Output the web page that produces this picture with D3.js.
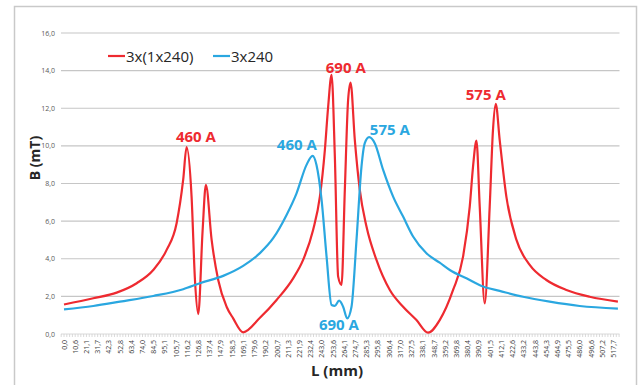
<!DOCTYPE html>
<html>
<head>
<meta charset="utf-8">
<script src="https://cdn.jsdelivr.net/npm/d3@7"></script>
<style>
  body { margin: 0; background: #fff; }
  svg { display: block; font-family: "Open Sans", sans-serif; }
</style>
</head>
<body>
<div id="chart"></div>
<script>
////////////////////////////  Data  ////////////////////////////
const xLabels = [
  "0,0", "10,6", "21,1", "31,7", "42,3", "52,8", "63,4", "74,0", "84,5", "95,1",
  "105,7", "116,2", "126,8", "137,4", "147,9", "158,5", "169,1", "179,6", "190,2", "200,7",
  "211,3", "221,9", "232,4", "243,0", "253,6", "264,1", "274,7", "285,3", "295,8", "306,4",
  "317,0", "327,5", "338,1", "348,7", "359,2", "369,8", "380,4", "390,9", "401,5", "412,1",
  "422,6", "433,2", "443,8", "454,3", "464,9", "475,5", "486,0", "496,6", "507,2", "517,7"
];
const yTicks = [0, 2, 4, 6, 8, 10, 12, 14, 16];

// 3x(1x240)
const redL = [
  0, 27.6, 49.6, 68.5, 84.1, 96.7, 106.1, 112.3, 115.5, 120.2, 123.4, 126.5, 130.6, 133.7,
  139.1, 145.3, 153.2, 159.4, 168.8, 184.6, 200.3, 215.9, 225.3, 234.7, 241.1, 245.8, 248.9,
  252.1, 255.2, 258.3, 261.5, 264.6, 267.7, 270.0, 274.0, 278.7, 285.0, 294.4, 307.0, 319.5,
  332.1, 343.0, 354.0, 366.6, 376.0, 382.3, 385.4, 388.6, 391.7, 396.4, 401.1, 404.2, 406.8,
  410.5, 416.8, 426.3, 438.8, 454.5, 473.4, 495.3, 521.9
];
const redB = [
  1.57, 1.9, 2.2, 2.7, 3.4, 4.47, 5.89, 8.2, 9.93, 7.3, 2.87, 1.06, 5.5, 7.93,
  5.0, 2.87, 1.45, 0.83, 0.09, 0.86, 1.81, 2.96, 3.94, 5.53, 7.3, 9.79, 12.09,
  13.78, 9.43, 3.05, 2.61, 7.66, 12.45, 13.37, 10.32, 7.66, 5.71, 3.94, 2.34, 1.45,
  0.74, 0.07, 0.74, 2.34, 4.11, 6.77, 8.9, 10.28, 6.77, 1.63, 6.77, 10.85, 12.23,
  10.32, 7.3, 5.0, 3.67, 2.87, 2.34, 1.98, 1.72
];

// 3x240
const blueL = [
  0, 27.6, 52.7, 84.1, 112.3, 128.1, 150.0, 168.8, 184.6, 197.1, 209.7, 219.1, 228.5, 234.2,
  237.9, 242.7, 247.4, 252.1, 255.2, 259.2, 263.0, 266.8, 270.9, 275.6, 280.3, 283.4, 287.5,
  292.8, 300.7, 310.1, 319.5, 328.9, 341.5, 354.0, 363.5, 379.2, 394.8, 410.5, 432.5, 457.6,
  485.9, 521.9
];
const blueB = [
  1.31, 1.49, 1.72, 2.02, 2.38, 2.7, 3.09, 3.62, 4.3, 5.09, 6.33, 7.48, 8.99, 9.47,
  8.99, 7.13, 4.11, 1.54, 1.49, 1.77, 1.45, 0.83, 1.45, 5.0, 8.9, 10.14, 10.46,
  10.14, 8.72, 7.3, 6.24, 5.18, 4.29, 3.79, 3.4, 2.96, 2.52, 2.29, 1.98, 1.72,
  1.49, 1.35
];

// peak annotations (text, series, L, B of the text baseline centre)
const noteText = ["460 A", "690 A", "575 A", "460 A", "575 A", "690 A"];
const noteSeries = [0, 0, 0, 1, 1, 1];
const noteL = [124.3, 265.5, 397.4, 219.4, 307.0, 259.0];
const noteB = [10.2, 13.9, 12.45, 9.8, 10.6, 0.2];

const series = [
  { name: "3x(1x240)", color: "#ee2a30", L: redL, B: redB },
  { name: "3x240", color: "#2aa7e0", L: blueL, B: blueB },
];

////////////////////////////  Init  ////////////////////////////
const width = 643;
const height = 385;
const plot = { left: 61, right: 619.5, top: 33, bottom: 334 };

const svg = d3
  .select("#chart")
  .append("svg")
  .attr("width", width)
  .attr("height", height);

// outer frame
svg
  .append("rect")
  .attr("x", 14.5)
  .attr("y", 6.5)
  .attr("width", 622)
  .attr("height", 400)
  .attr("fill", "none")
  .attr("stroke", "#c9c9c9")
  .attr("stroke-width", 1.5);

// scales
const x = d3.scaleLinear().domain([-2.83, 523.4]).range([plot.left, plot.right]);
const y = d3.scaleLinear().domain([0, 16]).range([plot.bottom, plot.top]);

const parseLabel = (s) => +s.replace(",", ".");

// grid
svg
  .append("g")
  .selectAll("line")
  .data(yTicks)
  .join("line")
  .attr("x1", plot.left)
  .attr("x2", plot.right)
  .attr("y1", (d) => y(d))
  .attr("y2", (d) => y(d))
  .attr("stroke", (d) => (d === 0 ? "#d9d9d9" : "#c6c6c6"))
  .attr("stroke-width", 1.2);

// y labels
svg
  .append("g")
  .selectAll("text")
  .data(yTicks)
  .join("text")
  .attr("x", 55)
  .attr("y", (d) => y(d) + 2.5)
  .attr("text-anchor", "end")
  .attr("font-size", 7)
  .attr("fill", "#595959")
  .text((d) => d3.format(".1f")(d).replace(".", ","));

// x minor ticks (category boundaries)
const tickStep = 5.283 / 2;
svg
  .append("g")
  .selectAll("line")
  .data(d3.range(0, 200))
  .join("line")
  .attr("x1", (d) => x(d * tickStep - tickStep))
  .attr("x2", (d) => x(d * tickStep - tickStep))
  .attr("y1", plot.bottom)
  .attr("y2", plot.bottom + 3)
  .attr("stroke", "#d0d0d0")
  .attr("stroke-width", 0.8);

// x labels
svg
  .append("g")
  .selectAll("text")
  .data(xLabels)
  .join("text")
  .attr("transform", (d) => `translate(${x(parseLabel(d)) + 2.5}, 340) rotate(-90)`)
  .attr("text-anchor", "end")
  .attr("font-size", 7)
  .attr("fill", "#404040")
  .text((d) => d);

// axis titles
svg
  .append("text")
  .attr("transform", "translate(40, 158) rotate(-90)")
  .attr("text-anchor", "middle")
  .attr("font-size", 14)
  .attr("font-weight", "bold")
  .attr("fill", "#262626")
  .text("B (mT)");

svg
  .append("text")
  .attr("x", 337)
  .attr("y", 376)
  .attr("text-anchor", "middle")
  .attr("font-size", 15)
  .attr("font-weight", "bold")
  .attr("fill", "#262626")
  .text("L (mm)");

// lines
const line = d3
  .line()
  .curve(d3.curveMonotoneX)
  .x((d) => x(d[0]))
  .y((d) => y(d[1]));

svg
  .append("g")
  .selectAll("path")
  .data(series)
  .join("path")
  .attr("d", (s) => line(d3.zip(s.L, s.B)))
  .attr("fill", "none")
  .attr("stroke", (s) => s.color)
  .attr("stroke-width", 2.2)
  .attr("stroke-linejoin", "round");

// peak notes
svg
  .append("g")
  .selectAll("text")
  .data(noteText)
  .join("text")
  .attr("x", (d, i) => x(noteL[i]))
  .attr("y", (d, i) => y(noteB[i]))
  .attr("text-anchor", "middle")
  .attr("font-size", 15)
  .attr("font-weight", "bold")
  .attr("fill", (d, i) => series[noteSeries[i]].color)
  .text((d) => d);

// legend
const legendX = [108, 213];
const legend = svg
  .append("g")
  .selectAll("g")
  .data(series)
  .join("g")
  .attr("transform", (d, i) => `translate(${legendX[i]}, 56)`);

legend
  .append("line")
  .attr("x1", 0)
  .attr("x2", 17)
  .attr("stroke", (d) => d.color)
  .attr("stroke-width", 2.2);

legend
  .append("text")
  .attr("x", 18)
  .attr("y", 5.5)
  .attr("font-size", 15)
  .attr("fill", "#262626")
  .text((d) => d.name);
</script>
</body>
</html>
